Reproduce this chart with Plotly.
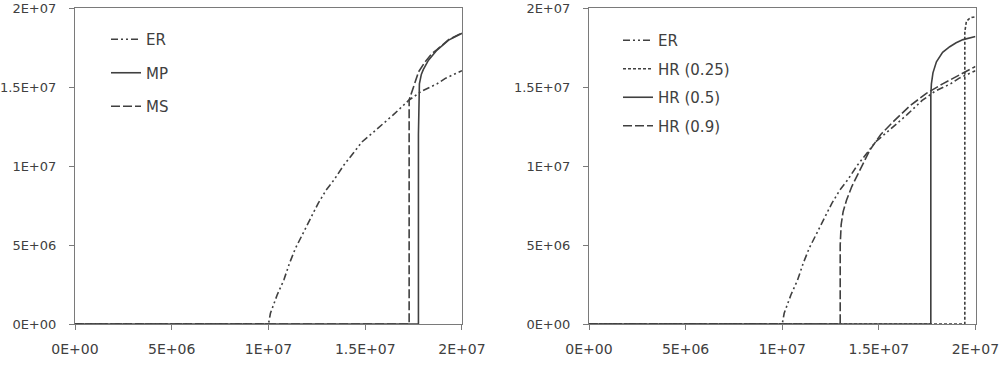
import plotly.graph_objects as go

# ---- data ----
er_x = [0, 1.0E7, 1.0101E7, 1.0447E7, 1.0794E7, 1.1084E7, 1.1394E7, 1.1777E7, 1.217E7, 1.2568E7,
        1.2982E7, 1.338E7, 1.3897E7, 1.4363E7, 1.4844E7, 1.543E7, 1.646E7, 1.724E7, 1.793E7,
        1.871E7, 1.914E7, 2.0E7]
er_y = [0, 0, 6.8E5, 1.835E6, 2.785E6, 3.84E6, 4.79E6, 5.74E6, 6.69E6, 7.64E6,
        8.48E6, 9.11E6, 1.006E7, 1.08E7, 1.154E7, 1.215E7, 1.325E7, 1.415E7, 1.475E7,
        1.52E7, 1.555E7, 1.603E7]

mp_x = [0, 1.775E7, 1.775E7, 1.777E7, 1.78E7, 1.79E7, 1.80E7, 1.827E7, 1.871E7, 1.931E7, 2.0E7]
mp_y = [0, 0, 1.20E7, 1.40E7, 1.52E7, 1.58E7, 1.61E7, 1.67E7, 1.734E7, 1.797E7, 1.84E7]

ms_x = [0, 1.727E7, 1.727E7, 1.75E7, 1.776E7, 1.81E7, 1.845E7, 1.871E7, 1.931E7, 2.0E7]
ms_y = [0, 0, 1.418E7, 1.50E7, 1.597E7, 1.66E7, 1.713E7, 1.737E7, 1.80E7, 1.843E7]

hr25_x = [0, 1.945E7, 1.945E7, 1.948E7, 1.953E7, 1.965E7, 1.98E7, 2.0E7]
hr25_y = [0, 0, 1.85E7, 1.89E7, 1.915E7, 1.93E7, 1.94E7, 1.945E7]

hr50_x = [0, 1.769E7, 1.769E7, 1.772E7, 1.78E7, 1.798E7, 1.83E7, 1.867E7, 1.9E7, 1.936E7, 2.0E7]
hr50_y = [0, 0, 1.45E7, 1.52E7, 1.59E7, 1.66E7, 1.72E7, 1.755E7, 1.78E7, 1.80E7, 1.82E7]

hr90_x = [0, 1.30E7, 1.30E7, 1.305E7, 1.315E7, 1.333E7, 1.36E7, 1.385E7, 1.42E7, 1.453E7, 1.51E7,
          1.574E7, 1.66E7, 1.746E7, 1.83E7, 1.919E7, 2.0E7]
hr90_y = [0, 0, 5.0E6, 6.3E6, 7.1E6, 7.85E6, 8.7E6, 9.32E6, 1.02E7, 1.10E7, 1.20E7,
          1.28E7, 1.38E7, 1.46E7, 1.52E7, 1.576E7, 1.63E7]

tick_vals = [0, 5E6, 1E7, 1.5E7, 2E7]
tick_text = ["0E+00", "5E+06", "1E+07", "1.5E+07", "2E+07"]

# ---- style ----
LC = "#404040"
FONT = dict(family="DejaVu Sans", size=14, color="#404040")
YFONT = dict(family="DejaVu Sans", size=13, color="#404040")
LFONT = dict(family="DejaVu Sans", size=15, color="#404040")
DASH_ER = "7px,3px,2px,3px,2px,3px"
DASH_LONG = "9px,3px"
DASH_SHORT = "3px,2px"

W, H = 1002, 366
def fx(p): return p / W
def fy(p): return 1 - p / H

fig = go.Figure()

def add(x, y, name, dash, xa, ya, legend, width=1.6):
    fig.add_trace(go.Scatter(x=x, y=y, mode="lines", name=name,
                             line=dict(color=LC, width=width, dash=dash),
                             xaxis=xa, yaxis=ya, legend=legend, legendgroup=name + legend))

add(er_x, er_y, "ER", DASH_ER, "x", "y", "legend")
add(mp_x, mp_y, "MP", "solid", "x", "y", "legend")
add(ms_x, ms_y, "MS", DASH_LONG, "x", "y", "legend")

add(er_x, er_y, "ER", DASH_ER, "x2", "y2", "legend2")
add(hr25_x, hr25_y, "HR (0.25)", DASH_SHORT, "x2", "y2", "legend2")
add(hr50_x, hr50_y, "HR (0.5)", "solid", "x2", "y2", "legend2")
add(hr90_x, hr90_y, "HR (0.9)", DASH_LONG, "x2", "y2", "legend2")

RMAX = 2.0002E7
axis_common = dict(range=[0, RMAX], tickvals=tick_vals, ticktext=tick_text,
                   showgrid=False, zeroline=False, showline=True, linecolor="#7a7a7a",
                   linewidth=1.2, mirror=True, ticks="outside", ticklen=5,
                   tickcolor="#7a7a7a", automargin=False,
                   ticklabeloverflow="allow")

ydom = [fy(324), fy(8)]
fig.update_layout(
    width=W, height=H, margin=dict(l=0, r=0, t=0, b=0),
    paper_bgcolor="white", plot_bgcolor="white", font=FONT,
    xaxis=dict(domain=[fx(75), fx(462)], anchor="y", ticklabelstandoff=7, tickfont=FONT, **axis_common),
    yaxis=dict(domain=ydom, anchor="x", ticklabelstandoff=10, tickfont=YFONT, **axis_common),
    xaxis2=dict(domain=[fx(589), fx(975.5)], anchor="y2", ticklabelstandoff=7, tickfont=FONT, **axis_common),
    yaxis2=dict(domain=ydom, anchor="x2", ticklabelstandoff=10, tickfont=YFONT, **axis_common),
    legend=dict(x=fx(106), y=fy(23), xanchor="left", yanchor="top", bgcolor="rgba(0,0,0,0)",
                font=LFONT, itemwidth=30, tracegroupgap=11, traceorder="grouped"),
    legend2=dict(x=fx(618), y=fy(24), xanchor="left", yanchor="top", bgcolor="rgba(0,0,0,0)",
                 font=LFONT, itemwidth=30, tracegroupgap=6, traceorder="grouped"),
    showlegend=True,
)

fig.write_html("out.html")
